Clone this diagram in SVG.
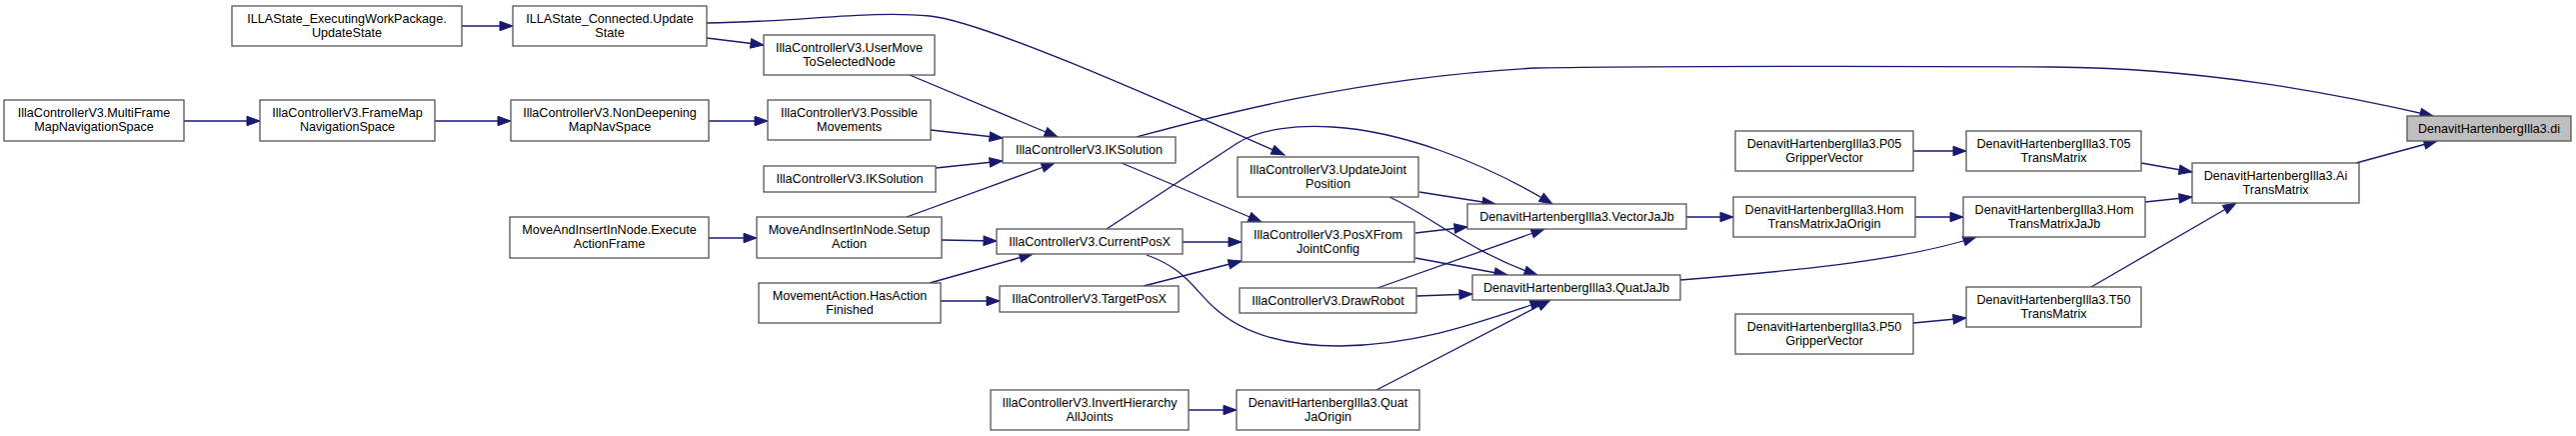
<svg xmlns="http://www.w3.org/2000/svg" width="2577" height="436" viewBox="0 0 2577 436">
<style>
.node rect{fill:#ffffff;stroke:#555555;stroke-width:1.3}
#n_di rect{fill:#bfbfbf}
.node text{font-family:"Liberation Sans",Arial,Helvetica,sans-serif;font-size:12.6px;fill:#000000;text-anchor:middle}
.edges path{fill:none;stroke:#191970;stroke-width:1.3;marker-end:url(#arr)}
</style>
<defs>
<marker id="arr" markerUnits="userSpaceOnUse" markerWidth="15" markerHeight="11" refX="13" refY="5" orient="auto" overflow="visible">
<path d="M0,0.3 L13,5 L0,9.7 Z" fill="#191970" stroke="#191970" stroke-width="1"/>
</marker>
</defs>
<rect x="0" y="0" width="2577" height="436" fill="#ffffff"/>
<g class="edges" id="edges">
<path d="M462,26 L513,26"/>
<path d="M707,38 L764,45"/>
<path d="M707,23 C800,22 870,10 930,16 C990,22 1200,118 1285,155"/>
<path d="M184,121 L260,121"/>
<path d="M435,121 L511,121"/>
<path d="M709,121 L768,121"/>
<path d="M910,75 L1058,137"/>
<path d="M931,130 L1003,138"/>
<path d="M936,168 L1003,161"/>
<path d="M907,217 L1055,163"/>
<path d="M1137,137 C1200,120 1350,78 1537,68 C1650,66 1900,66 2053,67 C2200,68 2330,92 2434,116"/>
<path d="M1122,163 L1262,222"/>
<path d="M1107,229 L1238,143 C1262,128 1300,125 1333,127 C1400,131 1480,160 1553,204"/>
<path d="M709,238 L757,238"/>
<path d="M942,240 L997,241"/>
<path d="M930,283 L1033,254"/>
<path d="M941,301 L1000,301"/>
<path d="M1183,242 L1242,242"/>
<path d="M1144,286 L1242,261"/>
<path d="M1147,255 C1185,268 1195,290 1215,308 C1245,335 1290,346 1340,346 C1420,345 1480,322 1544,301"/>
<path d="M1420,192 L1496,204"/>
<path d="M1390,197 C1430,215 1470,252 1538,275"/>
<path d="M1416,233 L1468,227"/>
<path d="M1416,258 L1508,275"/>
<path d="M1378,288 L1545,229"/>
<path d="M1417,296 L1473,294"/>
<path d="M1377,390 L1551,300"/>
<path d="M1189,410 L1237,410"/>
<path d="M1687,217 L1734,217"/>
<path d="M1916,217 L1964,217"/>
<path d="M1681,280 C1780,272 1900,262 1977,237"/>
<path d="M1914,151 L1967,151"/>
<path d="M1914,323 L1967,318"/>
<path d="M2142,163 L2193,172"/>
<path d="M2146,202 L2193,197"/>
<path d="M2092,287 L2237,203"/>
<path d="M2357,163 L2438,141"/>
</g>
<g class="node" id="n_exec"><rect x="232" y="6" width="230" height="40"/><text x="347" y="22.5">ILLAState_ExecutingWorkPackage.</text><text x="347" y="36.5">UpdateState</text></g>
<g class="node" id="n_conn"><rect x="513" y="6" width="194" height="40"/><text x="610" y="22.5">ILLAState_Connected.Update</text><text x="610" y="36.5">State</text></g>
<g class="node" id="n_usermove"><rect x="764" y="35" width="171" height="40"/><text x="849.5" y="51.5">IllaControllerV3.UserMove</text><text x="849.5" y="65.5">ToSelectedNode</text></g>
<g class="node" id="n_multi"><rect x="4" y="100" width="180" height="41"/><text x="94" y="117">IllaControllerV3.MultiFrame</text><text x="94" y="131">MapNavigationSpace</text></g>
<g class="node" id="n_framemap"><rect x="260" y="100" width="175" height="41"/><text x="347.5" y="117">IllaControllerV3.FrameMap</text><text x="347.5" y="131">NavigationSpace</text></g>
<g class="node" id="n_nondeep"><rect x="511" y="100" width="198" height="41"/><text x="610" y="117">IllaControllerV3.NonDeepening</text><text x="610" y="131">MapNavSpace</text></g>
<g class="node" id="n_possible"><rect x="768" y="100" width="163" height="40"/><text x="849.5" y="116.5">IllaControllerV3.Possible</text><text x="849.5" y="130.5">Movements</text></g>
<g class="node" id="n_iksol_left"><rect x="764" y="166" width="172" height="26"/><text x="850" y="183">IllaControllerV3.IKSolution</text></g>
<g class="node" id="n_iksol"><rect x="1003" y="137" width="173" height="26"/><text x="1089.5" y="154">IllaControllerV3.IKSolution</text></g>
<g class="node" id="n_execaction"><rect x="510" y="217" width="199" height="41"/><text x="609.5" y="234">MoveAndInsertInNode.Execute</text><text x="609.5" y="248">ActionFrame</text></g>
<g class="node" id="n_setup"><rect x="757" y="217" width="185" height="41"/><text x="849.5" y="234">MoveAndInsertInNode.Setup</text><text x="849.5" y="248">Action</text></g>
<g class="node" id="n_hasaction"><rect x="759" y="283" width="182" height="40"/><text x="850" y="299.5">MovementAction.HasAction</text><text x="850" y="313.5">Finished</text></g>
<g class="node" id="n_current"><rect x="997" y="229" width="186" height="25"/><text x="1090" y="245.5">IllaControllerV3.CurrentPosX</text></g>
<g class="node" id="n_target"><rect x="1000" y="286" width="179" height="26"/><text x="1089.5" y="303">IllaControllerV3.TargetPosX</text></g>
<g class="node" id="n_update"><rect x="1238" y="157" width="181" height="40"/><text x="1328.5" y="173.5">IllaControllerV3.UpdateJoint</text><text x="1328.5" y="187.5">Position</text></g>
<g class="node" id="n_posx"><rect x="1242" y="222" width="173" height="40"/><text x="1328.5" y="238.5">IllaControllerV3.PosXFrom</text><text x="1328.5" y="252.5">JointConfig</text></g>
<g class="node" id="n_draw"><rect x="1240" y="288" width="177" height="25"/><text x="1328.5" y="304.5">IllaControllerV3.DrawRobot</text></g>
<g class="node" id="n_invert"><rect x="991" y="390" width="198" height="40"/><text x="1090" y="406.5">IllaControllerV3.InvertHierarchy</text><text x="1090" y="420.5">AllJoints</text></g>
<g class="node" id="n_quatorigin"><rect x="1237" y="390" width="183" height="40"/><text x="1328.5" y="406.5">DenavitHartenbergIlla3.Quat</text><text x="1328.5" y="420.5">JaOrigin</text></g>
<g class="node" id="n_vector"><rect x="1468" y="204" width="219" height="25"/><text x="1577.5" y="220.5">DenavitHartenbergIlla3.VectorJaJb</text></g>
<g class="node" id="n_quat"><rect x="1473" y="275" width="208" height="25"/><text x="1577" y="291.5">DenavitHartenbergIlla3.QuatJaJb</text></g>
<g class="node" id="n_p05"><rect x="1736" y="131" width="178" height="40"/><text x="1825" y="147.5">DenavitHartenbergIlla3.P05</text><text x="1825" y="161.5">GripperVector</text></g>
<g class="node" id="n_t05"><rect x="1967" y="131" width="175" height="40"/><text x="2054.5" y="147.5">DenavitHartenbergIlla3.T05</text><text x="2054.5" y="161.5">TransMatrix</text></g>
<g class="node" id="n_homorigin"><rect x="1734" y="197" width="182" height="40"/><text x="1825" y="213.5">DenavitHartenbergIlla3.Hom</text><text x="1825" y="227.5">TransMatrixJaOrigin</text></g>
<g class="node" id="n_homjajb"><rect x="1964" y="197" width="182" height="40"/><text x="2055" y="213.5">DenavitHartenbergIlla3.Hom</text><text x="2055" y="227.5">TransMatrixJaJb</text></g>
<g class="node" id="n_t50"><rect x="1967" y="287" width="175" height="40"/><text x="2054.5" y="303.5">DenavitHartenbergIlla3.T50</text><text x="2054.5" y="317.5">TransMatrix</text></g>
<g class="node" id="n_p50"><rect x="1736" y="314" width="178" height="40"/><text x="1825" y="330.5">DenavitHartenbergIlla3.P50</text><text x="1825" y="344.5">GripperVector</text></g>
<g class="node" id="n_ai"><rect x="2193" y="163" width="167" height="40"/><text x="2276.5" y="179.5">DenavitHartenbergIlla3.Ai</text><text x="2276.5" y="193.5">TransMatrix</text></g>
<g class="node" id="n_di"><rect x="2408" y="116" width="164" height="25"/><text x="2490" y="132.5">DenavitHartenbergIlla3.di</text></g>
</svg>
